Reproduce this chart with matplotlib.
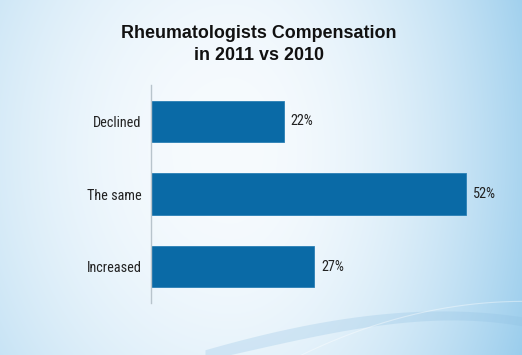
import matplotlib.pyplot as plt
import numpy as np

categories = ["Declined", "The same", "Increased"]
values = [22, 52, 27]
labels = ["22%", "52%", "27%"]
title_lines = ["Rheumatologists Compensation", "in 2011 vs 2010"]

W, H = 522, 355
fig = plt.figure(figsize=(W / 100, H / 100), dpi=100)

# background gradient, white in the middle, blue towards the edges (more on the right)
bg = fig.add_axes([0, 0, 1, 1], zorder=0)
yy, xx = np.mgrid[0:H, 0:W]
dx = (xx - 230) / W
dy = (yy - 150) / H
kx = np.where(dx < 0, 1.7, 2.6)
s = np.clip(kx * dx ** 2 + 0.5 * dy ** 2, 0, 1)
white = np.array([247, 251, 254]) / 255.0
blue = np.array([152, 204, 236]) / 255.0
img = white[None, None, :] * (1 - s[..., None]) + blue[None, None, :] * s[..., None]
bg.imshow(img, extent=[0, W, H, 0], aspect="auto", interpolation="bilinear")

# swoosh band + thin line near the bottom (smooth curves through a few points)
bx = [215, 300, 400, 470, 522]
b_up = [347, 326, 313, 311, 317]
b_lo = [358, 339, 323, 320, 326]
sx = np.linspace(205, W, 300)
up = np.polyval(np.polyfit(bx, b_up, 3), sx)
lo = np.polyval(np.polyfit(bx, b_lo, 3), sx)
bg.fill_between(sx, up, lo, color="#8fc0e2", alpha=0.28, lw=0)
lx = [300, 360, 420, 480, 522]
ly = [356, 330, 313, 304, 301]
tx = np.linspace(295, W, 300)
bg.plot(tx, np.polyval(np.polyfit(lx, ly, 2), tx), color="white", alpha=0.4, lw=0.8)
bg.set_xlim(0, W)
bg.set_ylim(H, 0)
bg.axis("off")

# chart
ax = fig.add_axes([150.5 / W, 52 / H, 364 / W, 218 / H], zorder=1)
ax.patch.set_alpha(0)
y = np.arange(len(categories))
bars = ax.barh(y, values, height=0.57, color="#0a6aa6", edgecolor="#2a7fb5", lw=0.6)
for b, lab in zip(bars, labels):
    ax.text(b.get_width() + 1.1, b.get_y() + b.get_height() / 2, lab,
            va="center", ha="left", fontsize=10.3, color="#222222",
            family=["Roboto Condensed", "DejaVu Sans"])
ax.set_yticks(y)
ax.set_yticklabels(categories, fontsize=10.3, color="#222222",
                   family=["Roboto Condensed", "DejaVu Sans"])
ax.set_ylim(2.5, -0.5)
ax.set_xlim(0, 60)
ax.set_xticks([])
ax.tick_params(axis="y", length=0, pad=6.5)
for sp in ["top", "right", "bottom"]:
    ax.spines[sp].set_visible(False)
ax.spines["left"].set_color("#b8c4cc")
ax.spines["left"].set_linewidth(1)

for line, yc in zip(title_lines, [33, 55]):
    fig.text(258.5 / W, 1 - yc / H, line, ha="center", va="center",
             fontsize=12.9, fontweight="bold", color="#111111",
             family=["Liberation Sans", "DejaVu Sans"])

fig.savefig("out.png", dpi=100)
